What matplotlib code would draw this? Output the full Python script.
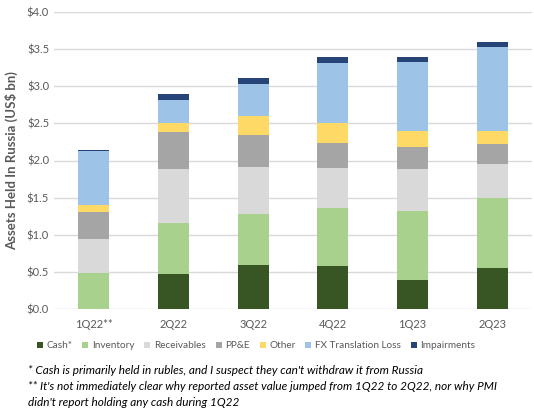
import numpy as np
import matplotlib
matplotlib.use('Agg')
import matplotlib.pyplot as plt
from matplotlib.patches import Patch

plt.rcParams['font.family'] = ['Lato', 'DejaVu Sans']

quarters = ['1Q22**', '2Q22', '3Q22', '4Q22', '1Q23', '2Q23']
cash        = [0.00, 0.47, 0.59, 0.58, 0.39, 0.55]
inventory   = [0.485, 0.69, 0.69, 0.78, 0.93, 0.94]
receivables = [0.46, 0.73, 0.63, 0.54, 0.57, 0.46]
ppe         = [0.36, 0.50, 0.43, 0.34, 0.29, 0.27]
other       = [0.094, 0.11, 0.26, 0.26, 0.22, 0.18]
fx_loss     = [0.73, 0.32, 0.43, 0.81, 0.93, 1.13]
impairments = [0.01, 0.07, 0.08, 0.08, 0.06, 0.07]

series = [('Cash*', cash, '#375623'),
          ('Inventory', inventory, '#A9D18E'),
          ('Receivables', receivables, '#D9D9D9'),
          ('PP&E', ppe, '#A5A5A5'),
          ('Other', other, '#FFD966'),
          ('FX Translation Loss', fx_loss, '#9DC3E6'),
          ('Impairments', impairments, '#264478')]

fig = plt.figure(figsize=(5.34, 4.2), dpi=100)
ax = fig.add_axes([54/534, 1-309/420, 478/534, 297/420])

x = np.arange(len(quarters))
bottom = np.zeros(len(quarters))
for name, vals, col in series:
    ax.bar(x, vals, 0.39, bottom=bottom, color=col, label=name, zorder=3)
    bottom += np.array(vals)

ax.set_xlim(-0.5, 5.5)
ax.set_ylim(0, 4.0)
ax.set_yticks(np.arange(0, 4.01, 0.5))
ax.set_yticklabels(['$%.1f' % v for v in np.arange(0, 4.01, 0.5)])
ax.set_xticks(x)
ax.set_xticklabels(quarters)
ax.grid(axis='y', color='#D9D9D9', linewidth=1, zorder=0)
for s in ax.spines.values():
    s.set_visible(False)
ax.tick_params(length=0, colors='#595959', labelsize=8)
ax.tick_params(axis='x', pad=7)
ax.set_ylabel('Assets Held In Russia (US$ bn)', fontsize=9.5, fontweight='bold', color='#595959', labelpad=6)

handles = [Patch(facecolor=c, label=n) for n, v, c in series]
fig.legend(handles=handles, loc='center', bbox_to_anchor=(256/534, 1-346/420), ncol=7, frameon=False,
           fontsize=7.2, handlelength=0.6, handleheight=0.6, handletextpad=0.35, columnspacing=1.0,
           labelcolor='#595959')

notes = ["* Cash is primarily held in rubles, and I suspect they can't withdraw it from Russia",
         "** It's not immediately clear why reported asset value jumped from 1Q22 to 2Q22, nor why PMI",
         "didn't report holding any cash during 1Q22"]
for i, t in enumerate(notes):
    fig.text(28/534, 1-(370+16.5*i)/420, t, fontsize=8.5, style='italic', color='black', va='center')

fig.savefig('out.png', dpi=100)
